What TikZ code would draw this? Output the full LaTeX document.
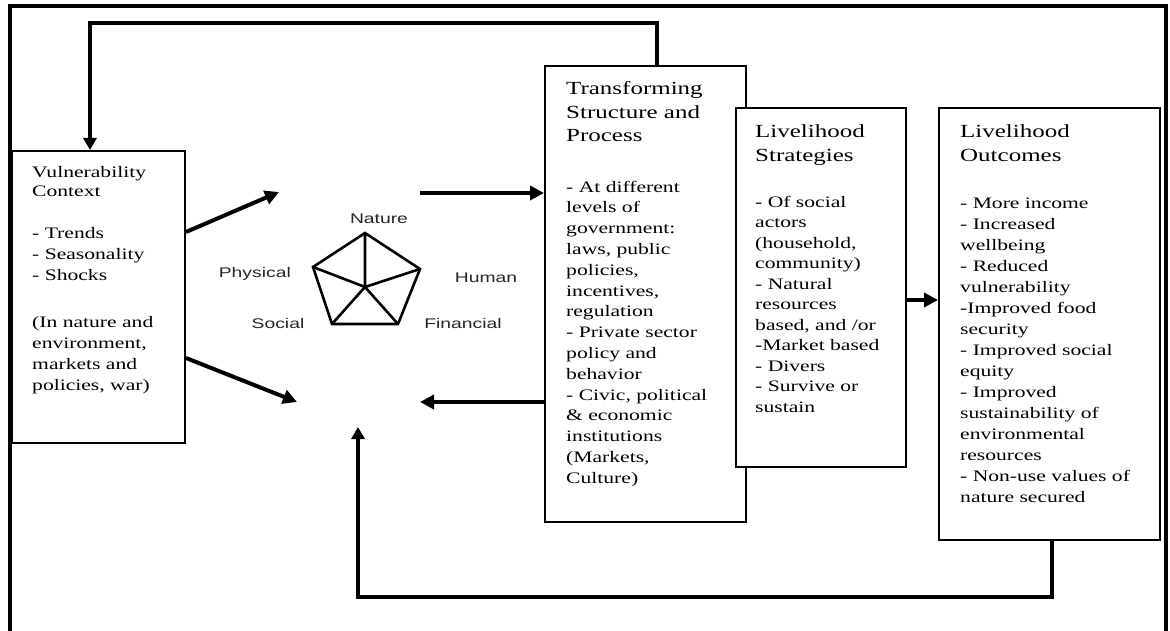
\documentclass[tikz,border=0pt]{standalone}
\usepackage{fontspec}
\setmainfont{Liberation Serif}
\newfontfamily\strserif[FakeStretch=1.35]{Liberation Serif}
\newfontfamily\strsans[FakeStretch=1.38]{Liberation Sans}
\usetikzlibrary{arrows.meta}
\tikzset{
  box/.style={draw, line width=2pt, fill=white, inner sep=0pt},
  ttl/.style={align=left, anchor=base west, inner sep=0pt, font=\strserif\fontsize{18.5}{23.5}\selectfont},
  bdy/.style={align=left, anchor=base west, inner sep=0pt, font=\strserif\fontsize{16}{#1}\selectfont},
  bdy/.default={20.8},
  capl/.style={inner sep=0pt, font=\strsans\fontsize{14}{16}\selectfont, text=black!85},
  arr/.style={line width=4pt, -{Triangle[length=14pt,width=14pt]}},
  fb/.style={line width=4pt, -{Triangle[length=12pt,width=13pt]}},
  penta/.style={line width=2.6pt, line join=miter},
}
\begin{document}
\begin{tikzpicture}[x=1pt,y=-1pt]
\useasboundingbox (0,0) rectangle (1170,631);
% outer frame (open at bottom)
\draw[line width=4pt] (9.5,631) -- (9.5,6.5) -- (1166,6.5) -- (1166,631);

% boxes
\node[box, minimum width=201pt, minimum height=456pt] (trans) at (645.5,294) {};
\node[box, minimum width=170pt, minimum height=359pt] (strat) at (821,287.5) {};
\node[box, minimum width=221pt, minimum height=432pt] (outc) at (1049.5,324) {};
\node[box, minimum width=173pt, minimum height=292pt] (vul) at (98.5,297) {};

% vulnerability text (anchor = baseline of the last line)
\node[bdy=20] (vt) at (32,197) {Vulnerability\\Context};
\node[bdy=21] (vb1) at (32,280) {- Trends\\- Seasonality\\- Shocks};
\node[bdy=21] (vb2) at (32,390) {(In nature and\\environment,\\markets and\\policies, war)};

% transforming text
\node[ttl] (tt) at (566,142) {Transforming\\Structure and\\Process};
\node[bdy=20.8] (tb) at (566,483.2) {- At different\\levels of\\government:\\laws, public\\policies,\\incentives,\\regulation\\- Private sector\\policy and\\behavior\\- Civic, political\\\& economic\\institutions\\(Markets,\\Culture)};

% strategies text
\node[ttl] (st) at (755,161.5) {Livelihood\\Strategies};
\node[bdy=20.5] (sb) at (755,412) {- Of social\\actors\\(household,\\community)\\- Natural\\resources\\based, and /or\\-Market based\\- Divers\\- Survive or\\sustain};

% outcomes text
\node[ttl] (ot) at (960,161.5) {Livelihood\\Outcomes};
\node[bdy=21] (ob) at (960,502) {- More income\\- Increased\\wellbeing\\- Reduced\\vulnerability\\-Improved food\\security\\- Improved social\\equity\\- Improved\\sustainability of\\environmental\\resources\\- Non-use values of\\nature secured};

% pentagon of capitals
\coordinate (pT) at (365,233);
\coordinate (pR) at (420,269);
\coordinate (pBR) at (398,324);
\coordinate (pBL) at (332,324);
\coordinate (pL) at (313,267);
\coordinate (pC) at (365,287);
\draw[penta] (pT) -- (pR) -- (pBR) -- (pBL) -- (pL) -- cycle;
\draw[penta] (pC) -- (pT) (pC) -- (pR) (pC) -- (pBR) (pC) -- (pBL) (pC) -- (pL);

\node[capl] (nat) at (379,219) {Nature};
\node[capl, anchor=east] (phy) at (291,274) {Physical};
\node[capl] (hum) at (486,278) {Human};
\node[capl] (soc) at (278,323) {Social};
\node[capl] (fin) at (463,323) {Financial};

% free ends near the pentagon
\coordinate (inUL) at (279,192);
\coordinate (inLL) at (297,402);
\coordinate (outUR) at (420,193);
\coordinate (outLL) at (420,402);
\coordinate (fbEnd) at (358,427);

% connectors
\draw[arr] ([yshift=65pt]vul.east) -- (inUL);
\draw[arr] ([yshift=-61pt]vul.east) -- (inLL);
\draw[arr] (outUR) -- (outUR -| trans.west);
\draw[arr] (outLL -| trans.west) -- (outLL);
\draw[arr] ([yshift=-12.5pt]strat.east) -- ([yshift=-12.5pt]strat.east -| outc.west);
\draw[fb] ([xshift=11.5pt]trans.north) -- ++(0,-42) -| ([xshift=-8.5pt]vul.north);
\draw[fb] ([xshift=2.5pt]outc.south) -- ++(0,56) -| (fbEnd);
\end{tikzpicture}
\end{document}
